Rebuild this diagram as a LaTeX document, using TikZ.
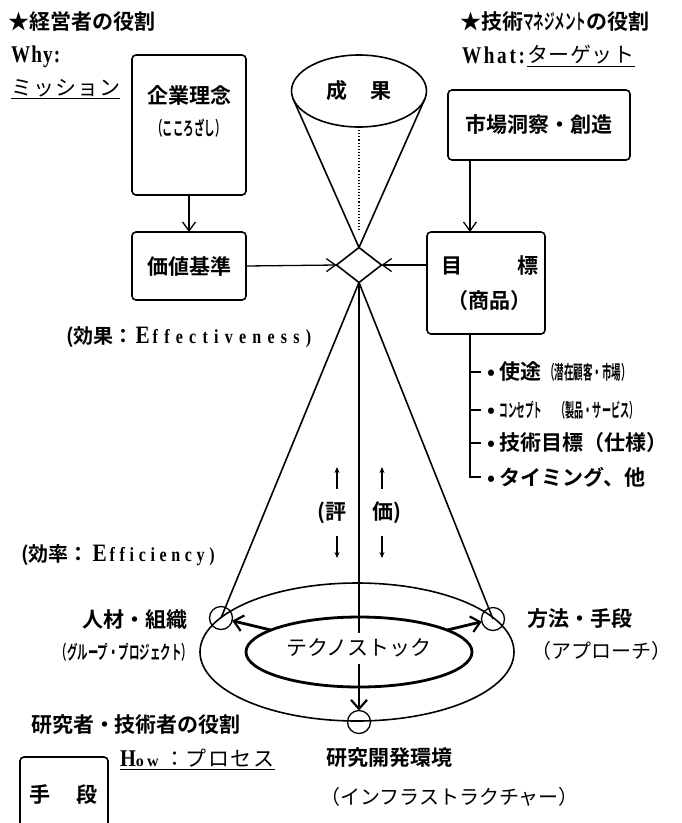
\documentclass[tikz,border=0pt]{standalone}
\usepackage{fontspec}
\usepackage{graphicx}
\setmainfont{Liberation Serif}
\newfontfamily\jp{Noto Sans CJK JP}[BoldFont={Noto Sans CJK JP Bold}]
\usetikzlibrary{shapes.geometric,arrows.meta}
\newcommand\fsA{\fontsize{21}{24}\selectfont}
\newcommand\fsB{\fontsize{20}{22}\selectfont}
\newcommand\bigE{\scalebox{0.85}[1]{\bfseries\fontsize{25}{26}\selectfont E}}
\tikzset{
 every node/.style={inner sep=0pt, outer sep=0pt},
 jb/.style={font=\jp\bfseries\fsA},
 jr/.style={font=\jp\fsA},
 rbox/.style={draw, line width=1.6pt, rounded corners=4pt},
 ln/.style={line width=1.6pt},
 arr/.style={line width=1.3pt, -{Straight Barb[length=9pt,width=13pt,line width=1.3pt]}},
 tarr/.style={line width=2.8pt, -{Straight Barb[length=9pt,width=16pt,line width=2.2pt]}},
 sarr/.style={line width=1.2pt, -{Stealth[length=6pt,width=5pt]}},
 circ/.style={circle, draw, line width=1.3pt, minimum size=23pt},
}
\begin{document}
\begin{tikzpicture}[x=1pt,y=-1pt]
\useasboundingbox (0,0) rectangle (681,823);

% ---------- top left ----------
\node[jb, anchor=west] (t1) at (9,22) {★経営者の役割};
\node[anchor=west] (why) at (11,57) {\scalebox{0.8}[1]{\bfseries\fontsize{24}{26}\selectfont\addfontfeatures{LetterSpace=6}Why:}};
\node[font=\jp\fsA\addfontfeatures{LetterSpace=5}, anchor=west] (miss) at (11,88) {ミッション};
\draw[line width=1.2pt] ([yshift=-2pt]miss.south west) -- ([yshift=-2pt]miss.south east);

\node[rbox, minimum width=114pt, minimum height=140pt] (kigyo) at (189,125) {};
\node[jb] (kt) at (189,95) {企業理念};
\node[font=\jp\bfseries\fontsize{19}{20}\selectfont] (kk) at (189,128) {\scalebox{0.55}[1]{（こころざし）}};
\node[rbox, minimum width=114pt, minimum height=68pt, jb] (kachi) at (189,266) {価値基準};

% ---------- centre top ----------
\node[ellipse, draw, ln, minimum width=135pt, minimum height=72pt, jb] (seika) at (359,91) {成\hspace{24pt}果};
\node[diamond, draw, ln, minimum width=45pt, minimum height=35pt] (dia) at (359,265) {};
\coordinate (dotend) at (359,232);
\draw[ln] (seika.187) -- (dia.north) -- (seika.353);
\draw[dotted, line width=1.1pt] (seika.south) -- (dotend);

% ---------- top right ----------
\node[jb, anchor=west] (t2) at (460,22) {★技術\scalebox{0.5}[1]{マネジメント}の役割};
\node[anchor=west] (what) at (462,55) {\scalebox{0.8}[1]{\bfseries\fontsize{24}{26}\selectfont\addfontfeatures{LetterSpace=14}What:}};
\node[font=\jp\fsA\addfontfeatures{LetterSpace=3}, anchor=west] (tgt) at ([xshift=2pt]what.east) {ターゲット};
\draw[line width=1.2pt] ([yshift=-2pt]tgt.south west) -- ([yshift=-2pt]tgt.south east);

\node[rbox, minimum width=182pt, minimum height=70pt, jb] (shijo) at (539,125) {市場洞察・創造};
\node[rbox, minimum width=118pt, minimum height=102pt] (moku) at (486,283) {};
\node[jb] (mk1) at (490,266) {目\hspace{56pt}標};
\node[jb] (mk2) at (489,301) {（商品）};

\coordinate (tx) at (470,0);
\draw[arr] (shijo.south -| tx) -- (moku.north -| tx);
\draw[arr] (kigyo.south) -- (kachi.north);
\draw[arr] (kachi.east) -- (dia.west);
\draw[arr] (moku.west |- dia) -- (dia.east);

% ---------- tree ----------
\coordinate (b1) at (481,372);
\coordinate (b2) at (481,410);
\coordinate (b3) at (481,443);
\coordinate (b4) at (481,477);
\draw[ln] (moku.south -| tx) |- (b4);
\draw[ln] (b1 -| tx) -- (b1);
\draw[ln] (b2 -| tx) -- (b2);
\draw[ln] (b3 -| tx) -- (b3);
\node[jb, anchor=west] (l1) at (487,372) {• 使途\,\scalebox{0.5}[1]{\fontsize{19}{20}\selectfont （潜在顧客・市場）}};
\node[jb, anchor=west] (l2) at (487,410) {• \scalebox{0.45}[1]{\fontsize{19}{20}\selectfont コンセプト}\hspace{14pt}\scalebox{0.48}[1]{\fontsize{19}{20}\selectfont （製品・サービス）}};
\node[jb, anchor=west] (l3) at (487,443) {• 技術目標（仕様）};
\node[jb, anchor=west] (l4) at (487,477) {• タイミング、他};

% ---------- effectiveness ----------
\node[anchor=west] (eff) at (66,337) {{\jp\bfseries\fsB (効果：}\hspace{2pt}\bigE\hspace{3pt}\scalebox{0.8}[1]{\bfseries\fontsize{20}{22}\selectfont\addfontfeatures{LetterSpace=39,Ligatures=NoCommon}ffectiveness)}};

% ---------- lower cone ----------
\node[ellipse, draw, ln, minimum width=314pt, minimum height=138pt] (outer) at (357,652) {};
\node[ellipse, draw, line width=2.8pt, minimum width=226pt, minimum height=70pt] (inner) at (359,652) {};
\node[jr] (tech) at (359,648) {テクノストック};
\node[circ] (lc) at (221,618) {};
\node[circ] (rc) at (493,619) {};
\node[circ] (bc) at (359,722) {};
\coordinate (gapa) at (359,633);
\coordinate (gapb) at (359,664);

\draw[ln] (dia.south) -- (lc.center);
\draw[ln] (dia.south) -- (rc.center);
\draw[ln] (dia.south) -- (gapa);
\draw[ln] (gapb) -- (inner.south);
\draw[tarr] (inner.166) -- (lc);
\draw[tarr] (inner.14) -- (rc);
\draw[tarr] (inner.south) -- (bc);

% evaluation
\node[jb] (hyo) at (332,513) {(評};
\node[jb] (ka) at (387,513) {価)};
\coordinate (u1a) at (337,489); \coordinate (u1b) at (337,467);
\coordinate (u2a) at (382,489); \coordinate (u2b) at (382,467);
\coordinate (d1a) at (337,536); \coordinate (d1b) at (337,558);
\coordinate (d2a) at (382,536); \coordinate (d2b) at (382,558);
\draw[sarr] (u1a) -- (u1b);
\draw[sarr] (u2a) -- (u2b);
\draw[sarr] (d1a) -- (d1b);
\draw[sarr] (d2a) -- (d2b);

\node[anchor=west] (efc) at (21,555) {{\jp\bfseries\fsB (効率：}\hspace{4pt}\bigE\hspace{3pt}\scalebox{0.8}[1]{\bfseries\fontsize{20}{22}\selectfont\addfontfeatures{LetterSpace=29,Ligatures=NoCommon}fficiency)}};

% ---------- lower labels ----------
\node[jb, anchor=east] (jin) at (187,620) {人材・組織};
\node[font=\jp\bfseries\fontsize{19}{20}\selectfont, anchor=east] (grp) at (192,652) {\scalebox{0.55}[1]{（グループ・プロジェクト）}};
\node[jb, anchor=west] (hoho) at (527,619) {方法・手段};
\node[font=\jp\fsB, anchor=west] (appr) at (531,651) {（アプローチ）};

\node[jb, anchor=west] (res) at (31,725) {研究者・技術者の役割};
\node[anchor=west] (how) at (120,758) {\scalebox{0.85}[1]{\bfseries\fontsize{24}{24}\selectfont H}{\bfseries\fontsize{16}{16}\selectfont\addfontfeatures{LetterSpace=20}ow}\hspace{6pt}{\jp\fsA ：\addfontfeatures{LetterSpace=8}プロセス}};
\draw[line width=1.2pt] ([yshift=-2pt]how.south west) -- ([yshift=-2pt]how.south east);
\node[jb, anchor=west] (kaihatsu) at (326,758) {研究開発環境};
\node[font=\jp\fsB, anchor=west] (infra) at (320,797) {（インフラストラクチャー）};

\draw[ln, rounded corners=4pt] (20,835) |- (108,757) -- (108,835);
\node[jb] (tedan) at (64,795) {手\hspace{26pt}段};
\end{tikzpicture}
\end{document}
